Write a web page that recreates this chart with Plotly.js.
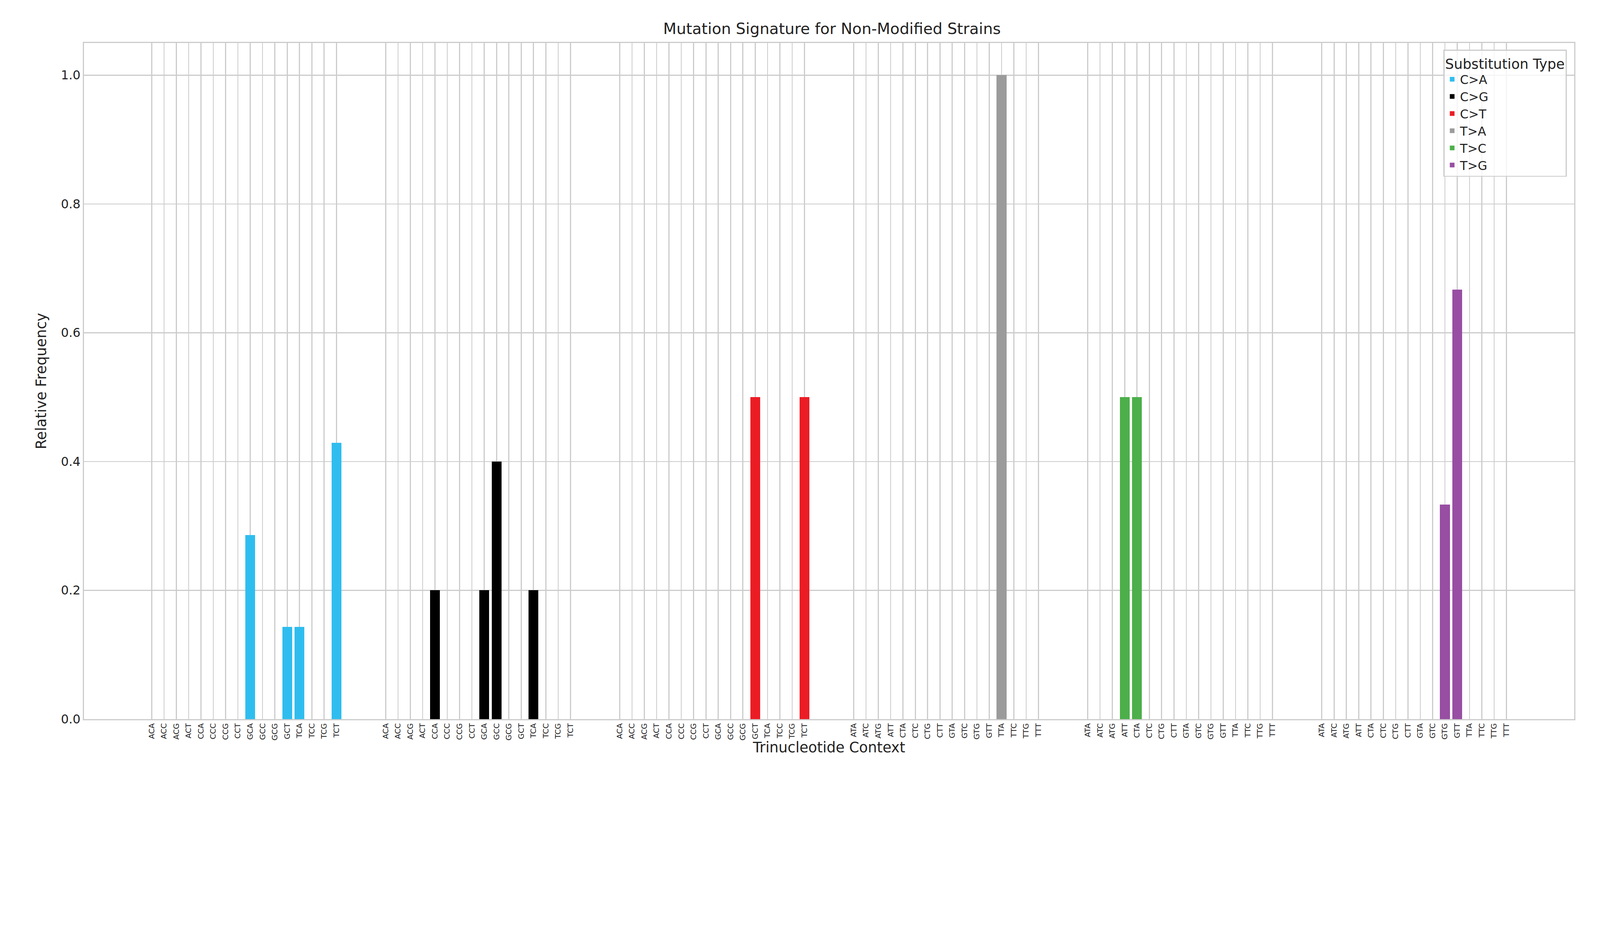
<!DOCTYPE html>
<html>
<head>
<meta charset="utf-8">
<script src="https://cdn.plot.ly/plotly-3.0.1.min.js"></script>
<style>html,body{margin:0;padding:0;background:#fff;overflow:hidden}</style>
</head>
<body>
<div id="chart"></div>
<script>
var types = ['C>A','C>G','C>T','T>A','T>C','T>G'];
var colors = ['#2FBDEF','#000000','#EC1C24','#9B9B9B','#4CAF4A','#984EA3'];
var cContexts = ['ACA','ACC','ACG','ACT','CCA','CCC','CCG','CCT','GCA','GCC','GCG','GCT','TCA','TCC','TCG','TCT'];
var tContexts = ['ATA','ATC','ATG','ATT','CTA','CTC','CTG','CTT','GTA','GTC','GTG','GTT','TTA','TTC','TTG','TTT'];
var freqCA = [0,0,0,0,0,0,0,0,0.286,0,0,0.143,0.143,0,0,0.429];
var freqCG = [0,0,0,0,0.2,0,0,0,0.2,0.4,0,0,0.2,0,0,0];
var freqCT = [0,0,0,0,0,0,0,0,0,0,0,0.5,0,0,0,0.5];
var freqTA = [0,0,0,0,0,0,0,0,0,0,0,0,1.0,0,0,0];
var freqTC = [0,0,0,0.5,0.5,0,0,0,0,0,0,0,0,0,0,0];
var freqTG = [0,0,0,0,0,0,0,0,0,0,0.333,0.667,0,0,0,0];
var allFreqs = [freqCA,freqCG,freqCT,freqTA,freqTC,freqTG];
var groupStep = 19;

// reference picture is ~1563 px wide; scale everything from it
var W = window.innerWidth, H = window.innerHeight;
var s = W/1563;

var traces=[];
var tickvals=[], ticktext=[];
types.forEach(function(t,g){
  var ctx = g<3 ? cContexts : tContexts;
  var xs = ctx.map(function(c,i){return g*groupStep+i;});
  xs.forEach(function(x,i){tickvals.push(x);ticktext.push(ctx[i]);});
  traces.push({type:'bar',name:t,x:xs,y:allFreqs[g],width:0.8,
    marker:{color:colors[g],line:{width:0}}});
});

var layout = {
  width:W,height:H,
  paper_bgcolor:'#fff',plot_bgcolor:'#fff',
  font:{family:'DejaVu Sans, Arial',color:'#222'},
  margin:{l:82*s,r:25*s,t:42*s,b:(H/s-702)*s},
  title:{text:'Mutation Signature for Non-Modified Strains',font:{size:15*s},x:0.52,xanchor:'center',y:1-28*s/H,yanchor:'middle'},
  bargap:0,
  xaxis:{range:[-5.5,115.5],tickvals:tickvals,ticktext:ticktext,tickangle:-90,
    tickfont:{size:7.5*s},showgrid:true,gridcolor:'#cccccc',gridwidth:1*s,
    showline:true,mirror:true,linecolor:'#cccccc',linewidth:1*s,zeroline:false,ticks:'',
    title:{text:'Trinucleotide Context',font:{size:14*s},standoff:2*s}},
  yaxis:{range:[0,1.05],tickvals:[0,0.2,0.4,0.6,0.8,1.0],ticktext:['0.0','0.2','0.4','0.6','0.8','1.0'],
    tickfont:{size:12*s},showgrid:true,gridcolor:'#cccccc',gridwidth:1*s,
    showline:true,mirror:true,linecolor:'#cccccc',linewidth:1*s,zeroline:false,ticks:'',
    title:{text:'Relative Frequency',font:{size:14*s},standoff:10*s}},
  legend:{title:{text:'Substitution Type',font:{size:13.5*s}},font:{size:12*s},
    x:0.995,y:0.99,xanchor:'right',yanchor:'top',bordercolor:'#cccccc',borderwidth:1*s,
    bgcolor:'rgba(255,255,255,0.8)',traceorder:'normal'},
  showlegend:true
};
Plotly.newPlot('chart',traces,layout,{staticPlot:true});
</script>
</body>
</html>
